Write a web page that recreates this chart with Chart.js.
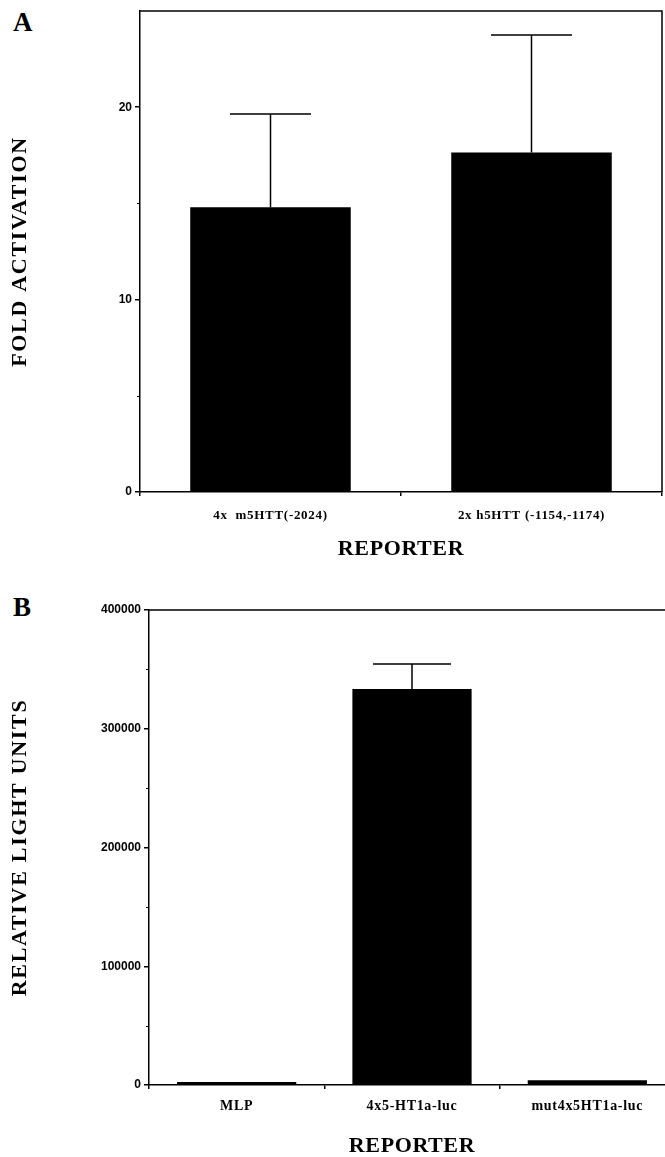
<!DOCTYPE html>
<html>
<head>
<meta charset="utf-8">
<script src="https://cdn.jsdelivr.net/npm/chart.js@4.4.0/dist/chart.umd.min.js"></script>
<style>
    html, body { margin: 0; padding: 0; background: #fff; overflow: hidden; width: 665px; height: 1157px; }
    .panel { position: absolute; left: 0; }
    .letter { position: absolute; left: 13px; font: bold 27px "Liberation Serif", serif; color: #000; }
</style>
</head>
<body>
<div class="letter" style="top: 7px;">A</div>
<div class="letter" style="top: 592px;">B</div>
<canvas id="chartA" class="panel" style="top: 0;" width="665" height="575"></canvas>
<canvas id="chartB" class="panel" style="top: 580px;" width="680" height="577"></canvas>
<script>
// Panel A
const reportersA = ['4x  m5HTT(-2024)', '2x h5HTT (-1154,-1174)'];
const foldActivation = [14.8, 17.65];
const foldError = [4.85, 6.1];
const ticksA = [0, 10, 20];
const minorTicksA = [5, 15];

// Panel B
const reportersB = ['MLP', '4x5-HT1a-luc', 'mut4x5HT1a-luc'];
const lightUnits = [2500, 333500, 4000];
const lightError = [0, 21000, 0];
const ticksB = [0, 100000, 200000, 300000, 400000];
const minorTicksB = [50000, 150000, 250000, 350000];

// Error bars (upper half only, like the figure)
const errorBars = {
    id: 'errorBars',
    afterDatasetsDraw(chart, args, opts) {
        const ctx = chart.ctx;
        const y = chart.scales.y;
        const ds = chart.data.datasets[0];
        ctx.save();
        ctx.strokeStyle = '#000';
        ctx.lineWidth = 1.5;
        chart.getDatasetMeta(0).data.forEach((bar, i) => {
            const err = ds.errors[i];
            if (!err) return;
            const yTop = y.getPixelForValue(ds.data[i] + err);
            ctx.beginPath();
            ctx.moveTo(bar.x, bar.y);
            ctx.lineTo(bar.x, yTop);
            ctx.moveTo(bar.x - opts.capWidth / 2, yTop);
            ctx.lineTo(bar.x + opts.capWidth / 2, yTop);
            ctx.stroke();
        });
        ctx.restore();
    }
};

// Top/right frame and the small minor ticks on the y axis
const frame = {
    id: 'frame',
    afterDraw(chart, args, opts) {
        const ctx = chart.ctx;
        const a = chart.chartArea;
        const y = chart.scales.y;
        ctx.save();
        ctx.strokeStyle = '#000';
        ctx.lineWidth = 1.5;
        ctx.beginPath();
        ctx.moveTo(a.left, a.top);
        ctx.lineTo(a.right, a.top);
        ctx.lineTo(a.right, a.bottom);
        ctx.stroke();
        ctx.lineWidth = 1;
        opts.minor.forEach(v => {
            const py = Math.round(y.getPixelForValue(v)) + 0.5;
            ctx.beginPath();
            ctx.moveTo(a.left - 3, py);
            ctx.lineTo(a.left, py);
            ctx.stroke();
        });
        ctx.restore();
    }
};

// The figure's serif text is spaced out a little, canvas letterSpacing does that
const spacing = {
    id: 'spacing',
    beforeDraw(chart, args, opts) {
        Object.values(chart.scales).forEach(scale => {
            if (scale._spaced) return;
            scale._spaced = true;
            const drawTitle = scale.drawTitle.bind(scale);
            const drawLabels = scale.drawLabels.bind(scale);
            scale.drawTitle = (...a) => {
                scale.ctx.save();
                scale.ctx.letterSpacing = scale.axis === 'x' ? opts.xTitle : opts.yTitle;
                drawTitle(...a);
                scale.ctx.restore();
            };
            scale.drawLabels = (...a) => {
                scale.ctx.save();
                scale.ctx.letterSpacing = scale.axis === 'x' ? opts.xTicks : '0px';
                drawLabels(...a);
                scale.ctx.restore();
            };
        });
    }
};

function makePanel(id, p) {
    return new Chart(document.getElementById(id), {
        type: 'bar',
        data: {
            labels: p.labels,
            datasets: [{
                data: p.values,
                errors: p.errors,
                backgroundColor: '#000',
                borderWidth: 0,
                categoryPercentage: 1,
                barPercentage: p.barPct
            }]
        },
        options: {
            responsive: false,
            animation: false,
            layout: { padding: p.padding },
            plugins: {
                legend: { display: false },
                tooltip: { enabled: false },
                errorBars: { capWidth: p.capWidth },
                frame: { minor: p.minor },
                spacing: { xTitle: '0.6px', yTitle: '1.7px', xTicks: '0.7px' }
            },
            scales: {
                x: {
                    afterFit: s => { s.height = p.xHeight; },
                    grid: { drawOnChartArea: false, tickLength: 4, color: '#000', lineWidth: 1.5 },
                    border: { color: '#000', width: 1.5 },
                    ticks: {
                        color: '#000',
                        padding: p.xPad,
                        maxRotation: 0,
                        font: { family: '"Liberation Serif", serif', weight: 'bold', size: p.xFont }
                    },
                    title: {
                        display: true,
                        text: 'REPORTER',
                        color: '#000',
                        font: { family: '"Liberation Serif", serif', weight: 'bold', size: 22, lineHeight: 1 },
                        padding: { top: 0, bottom: p.titlePad }
                    }
                },
                y: {
                    min: 0,
                    max: p.max,
                    afterFit: s => { s.width = p.yWidth; },
                    grid: { drawOnChartArea: false, tickLength: 5, color: '#000', lineWidth: 1.5 },
                    border: { color: '#000', width: 1.5 },
                    ticks: {
                        stepSize: p.ticks[1] - p.ticks[0],
                        includeBounds: false,
                        color: '#000',
                        padding: 3,
                        callback: v => p.ticks.includes(v) ? String(v) : '',
                        font: { family: '"Liberation Sans", Arial, sans-serif', weight: 'bold', size: 12 }
                    },
                    title: {
                        display: true,
                        text: p.yTitle,
                        color: '#000',
                        font: { family: '"Liberation Serif", serif', weight: 'bold', size: 22, lineHeight: 1.2 },
                        padding: { top: 7, bottom: 0 }
                    }
                }
            }
        },
        plugins: [errorBars, frame, spacing]
    });
}

makePanel('chartA', {
    labels: reportersA,
    values: foldActivation,
    errors: foldError,
    ticks: ticksA,
    minor: minorTicksA,
    max: 25,
    yTitle: 'FOLD ACTIVATION',
    barPct: 0.615,
    capWidth: 81,
    padding: { top: 11, right: 3, left: 0, bottom: 0 },
    yWidth: 140,
    xHeight: 83,
    xPad: 12,
    xFont: 13,
    titlePad: 15
});

makePanel('chartB', {
    labels: reportersB,
    values: lightUnits,
    errors: lightError,
    ticks: ticksB,
    minor: minorTicksB,
    max: 400000,
    yTitle: 'RELATIVE LIGHT UNITS',
    barPct: 0.68,
    capWidth: 78,
    padding: { top: 30, right: 5, left: 0, bottom: 0 },
    yWidth: 149,
    xHeight: 72,
    xPad: 9,
    xFont: 14,
    titlePad: 0
});
</script>
</body>
</html>
